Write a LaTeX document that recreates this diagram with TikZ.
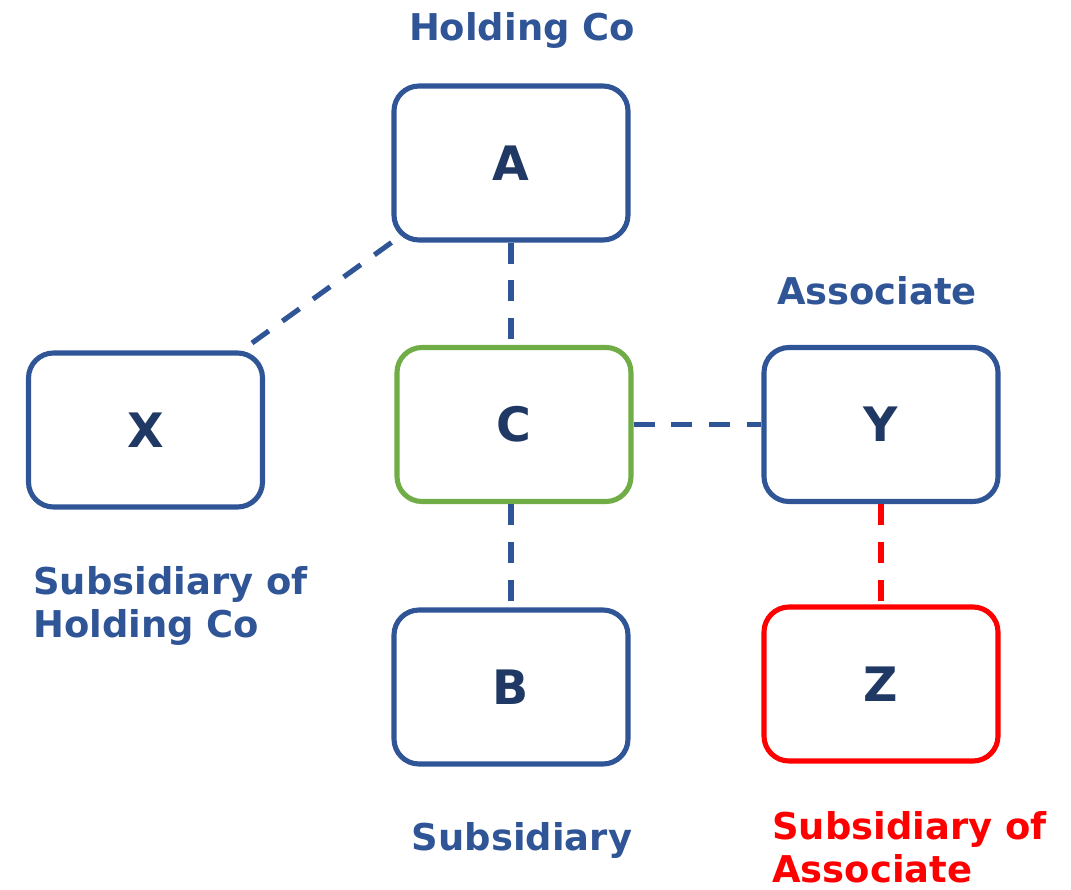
\documentclass[tikz,border=0pt]{standalone}
\usepackage{fontspec}
\setmainfont{DejaVu Sans}
\usetikzlibrary{calc}
\definecolor{lineblue}{HTML}{2F5597}
\definecolor{textnavy}{HTML}{203864}
\definecolor{boxgreen}{HTML}{70AD47}
\definecolor{boxred}{HTML}{FF0000}

\tikzset{
  entity/.style={draw=lineblue, line width=2.9pt, rounded corners=0.5cm,
    minimum width=4.68cm, minimum height=3.08cm, text=textnavy,
    font=\fontsize{27pt}{30pt}\selectfont\bfseries},
  role/.style={text=lineblue, inner sep=0pt,
    font=\fontsize{21pt}{24.5pt}\selectfont\bfseries},
  link/.style={draw=lineblue, line width=2.9pt, dash pattern=on 12pt off 9.5pt}
}

\begin{document}
\begin{tikzpicture}
\useasboundingbox (0,0) rectangle (21.42,-17.78);
\node[entity] (A) at (10.22,-3.26) {A};
\node[entity] (X) at (2.91,-8.60) {X};
\node[entity, draw=boxgreen] (C) at (10.28,-8.49) {C};
\node[entity] (Y) at (17.62,-8.49) {Y};
\node[entity] (B) at (10.22,-13.74) {B};
\node[entity, draw=boxred] (Z) at (17.62,-13.68) {Z};
\coordinate (xend) at (5.04,-6.86);
\draw[link] (A.south west) -- (xend);
\draw[link] (A.south) -- (A.south |- C.north);
\draw[link] (C.east) -- (Y.west);
\draw[link] (C.south -| B.north) -- (B.north);
\draw[link, draw=boxred] (Y.south) -- (Z.north);
\node[role, anchor=base] (holdlbl) at (10.44,-0.80) {Holding Co};
\node[role, anchor=base] (asslbl) at (17.54,-6.08) {Associate};
\node[role, anchor=base] (sublbl) at (10.44,-17.00) {Subsidiary};
\node[role, anchor=north west, align=left] (subholdlbl) at (0.66,-11.32) {Subsidiary of\\Holding Co};
\node[role, anchor=north west, align=left, text=boxred] (subasslbl) at (15.44,-16.22) {Subsidiary of\\Associate};
\end{tikzpicture}
\end{document}
